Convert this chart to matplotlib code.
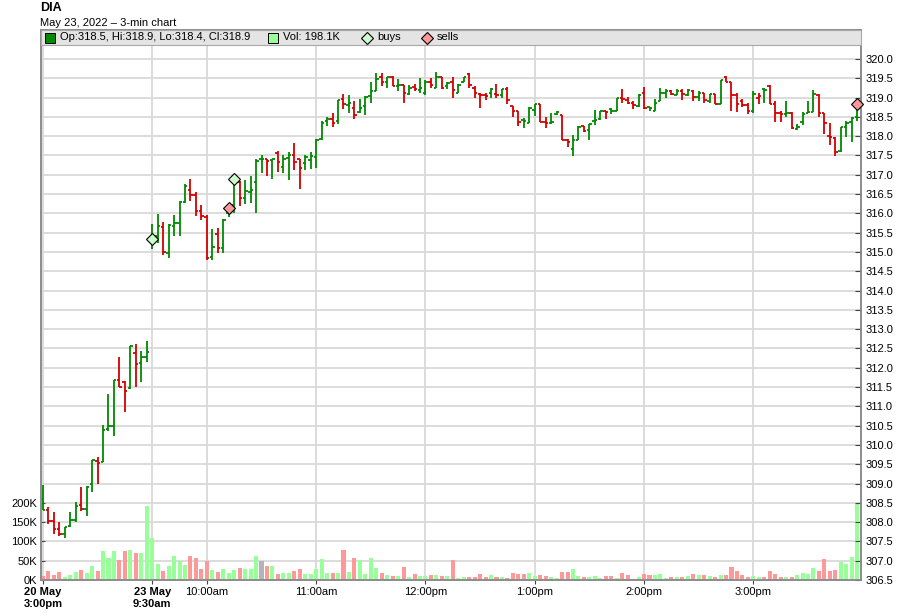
import numpy as np
import pandas as pd
import matplotlib
matplotlib.use("Agg")
import matplotlib.pyplot as plt
from matplotlib.patches import Rectangle
from matplotlib.lines import Line2D
from matplotlib.ticker import MultipleLocator, FuncFormatter

plt.rcParams['font.family'] = ['Liberation Sans', 'DejaVu Sans']

symbol = "DIA"
subtitle = "May 23, 2022 \u2013 3-min chart"

# close of the bar before the first one shown (20 May 2:57pm)
prev_close = 308.2

opens = [
    308.6, 308.32, 308.04, 307.82, 307.7, 307.89, 308.05, 308.45, 308.34, 308.98,
    309.58, 309.57, 310.42, 310.49, 311.68, 311.64, 311.47, 312.37, 312.11, 312.28,
    315.34, 315.41, 315.64, 314.97, 315.66, 315.76, 316.30, 316.6, 316.47, 316.06,
    315.91, 314.88, 315.46, 315.09, 316.0, 316.22, 316.82, 316.39, 316.55, 316.8,
    317.4, 317.4, 317.37, 317.57, 317.2, 317.43, 317.5, 317.4, 317.31, 317.37,
    317.46, 317.93, 318.38, 318.44, 318.4, 318.96, 318.8, 318.74, 318.62, 318.79,
    319.03, 319.17, 319.52, 319.41, 319.53, 319.3, 319.33, 319.09, 319.28, 319.2,
    319.13, 319.41, 319.26, 319.53, 319.3, 319.41, 319.11, 319.41, 319.6, 319.26,
    319.1, 319.06, 319.13, 319.09, 319.07, 319.22, 318.79, 318.66, 318.42, 318.33,
    318.68, 318.83, 318.36, 318.34, 318.57, 318.55, 317.89, 317.67, 317.89, 318.26,
    318.16, 318.4, 318.44, 318.64, 318.7, 318.66, 319.0, 318.93, 318.87, 318.78,
    319.11, 318.76, 318.66, 318.9, 319.13, 319.17, 319.07, 319.17, 319.07, 319.16,
    319.02, 319.12, 318.9, 319.09, 318.84, 319.53, 319.39, 319.07, 318.9, 318.81,
    318.66, 319.0, 319.22, 319.3, 318.83, 318.6, 318.57, 318.6, 318.19, 318.36,
    318.6, 318.62, 319.07, 318.6, 318.0, 317.96, 317.62, 318.23, 318.36, 318.5,
]
highs = [
    308.95, 308.4, 308.27, 308.0, 307.87, 308.26, 308.52, 308.9, 308.93, 309.6,
    309.69, 310.52, 311.33, 311.69, 312.28, 311.66, 312.57, 312.61, 312.43, 312.69,
    315.72, 315.97, 315.78, 315.72, 315.95, 316.32, 316.75, 316.89, 316.56, 316.22,
    315.96, 315.6, 315.61, 315.85, 316.26, 316.8, 316.84, 316.86, 316.97, 317.4,
    317.51, 317.42, 317.4, 317.61, 317.52, 317.59, 317.82, 317.4, 317.5, 317.59,
    317.93, 318.4, 318.49, 318.59, 318.93, 319.09, 319.07, 318.92, 318.96, 319.03,
    319.41, 319.63, 319.63, 319.53, 319.56, 319.47, 319.33, 319.33, 319.36, 319.5,
    319.46, 319.5, 319.65, 319.53, 319.39, 319.53, 319.35, 319.54, 319.63, 319.3,
    319.13, 319.13, 319.26, 319.35, 319.23, 319.28, 318.79, 318.66, 318.46, 318.76,
    318.83, 318.83, 318.49, 318.59, 318.66, 318.55, 317.93, 318.02, 318.25, 318.27,
    318.32, 318.68, 318.66, 318.66, 318.74, 319.0, 319.22, 319.02, 318.92, 319.09,
    319.28, 318.76, 318.96, 319.26, 319.22, 319.19, 319.21, 319.22, 319.23, 319.19,
    319.16, 319.13, 319.09, 319.09, 319.46, 319.56, 319.39, 319.12, 318.96, 318.85,
    319.18, 319.13, 319.24, 319.33, 318.92, 318.66, 318.91, 318.62, 318.32, 318.62,
    318.91, 319.19, 319.09, 318.6, 318.33, 317.97, 318.23, 318.4, 318.49, 318.9,
]
lows = [
    308.32, 307.96, 307.68, 307.65, 307.6, 307.87, 307.99, 308.3, 308.15, 308.79,
    309.0, 309.55, 310.37, 310.24, 311.49, 310.86, 311.45, 311.49, 311.62, 312.16,
    315.07, 315.22, 314.92, 314.84, 315.41, 315.41, 316.28, 316.32, 315.93, 315.83,
    314.79, 314.79, 314.97, 314.98, 315.9, 316.0, 316.19, 316.24, 316.28, 316.02,
    317.05, 316.97, 316.88, 317.08, 317.05, 316.87, 317.11, 316.62, 317.11, 317.16,
    317.18, 317.91, 318.25, 318.23, 318.32, 318.7, 318.6, 318.44, 318.59, 318.56,
    318.87, 319.16, 319.3, 319.26, 319.29, 319.17, 318.87, 319.06, 319.16, 319.11,
    319.07, 319.24, 319.24, 319.23, 319.23, 319.0, 319.11, 319.39, 319.26, 319.0,
    318.72, 318.93, 319.0, 319.0, 318.98, 318.83, 318.5, 318.26, 318.21, 318.33,
    318.53, 318.36, 318.2, 318.32, 318.55, 317.9, 317.73, 317.48, 317.89, 318.1,
    317.9, 318.29, 318.42, 318.44, 318.57, 318.64, 318.85, 318.83, 318.7, 318.76,
    318.7, 318.64, 318.66, 318.9, 319.0, 319.07, 319.06, 318.93, 319.05, 318.92,
    318.9, 318.87, 318.85, 318.83, 318.83, 319.39, 318.65, 318.62, 318.75, 318.58,
    318.59, 318.83, 318.85, 318.83, 318.36, 318.36, 318.49, 318.19, 318.15, 318.3,
    318.6, 318.62, 318.49, 318.06, 317.76, 317.48, 317.59, 317.97, 317.85, 318.4,
]
closes = [
    308.32, 308.04, 307.83, 307.69, 307.87, 308.05, 308.42, 308.35, 308.92, 309.6,
    309.53, 310.39, 310.5, 311.69, 311.49, 311.39, 312.56, 312.09, 312.28, 312.42,
    315.41, 315.66, 314.99, 315.70, 315.76, 316.30, 316.71, 316.47, 316.06, 315.93,
    314.85, 315.12, 315.09, 315.83, 316.22, 316.78, 316.39, 316.57, 316.6, 317.35,
    317.4, 317.36, 317.4, 317.34, 317.4, 317.5, 317.32, 317.18, 317.46, 317.48,
    317.91, 318.35, 318.44, 318.35, 318.93, 318.83, 318.85, 318.56, 318.74, 319.02,
    319.16, 319.47, 319.41, 319.53, 319.3, 319.33, 319.11, 319.26, 319.22, 319.24,
    319.41, 319.33, 319.53, 319.24, 319.37, 319.19, 319.33, 319.52, 319.32, 319.11,
    319.07, 319.03, 319.22, 319.06, 319.23, 318.93, 318.64, 318.36, 318.38, 318.74,
    318.83, 318.36, 318.34, 318.37, 318.62, 317.9, 317.84, 317.9, 318.23, 318.14,
    318.32, 318.43, 318.66, 318.62, 318.66, 319.0, 318.96, 318.87, 318.81, 319.07,
    318.72, 318.74, 318.87, 319.13, 319.16, 319.09, 319.17, 319.09, 319.19, 319.02,
    319.12, 318.94, 319.09, 318.84, 319.46, 319.39, 319.07, 318.83, 318.8, 318.66,
    319.09, 319.03, 319.2, 318.83, 318.59, 318.57, 318.6, 318.21, 318.23, 318.57,
    318.62, 319.09, 318.6, 318.33, 317.97, 317.59, 318.23, 318.33, 318.47, 318.9,
]
# volume in thousands of shares
volumes_k = [
    10.6, 24, 13, 20, 8, 13, 21, 26, 18.5, 37,
    24, 74, 58, 74, 53, 74, 77, 71, 69, 193,
    108, 42, 24, 37, 61, 48, 40, 61, 58, 29,
    48, 26, 21, 29, 18.5, 26, 32, 29, 29, 61,
    50, 37, 37, 16, 17.5, 17.5, 23.5, 28, 15.7, 15.7,
    28, 55, 17.4, 17.4, 17.4, 78, 21, 57, 52, 15.7,
    57, 31, 17.4, 13, 10.4, 10.4, 34, 7.8, 15.7, 10.4,
    10.4, 13, 13, 10.4, 10.4, 52, 5.2, 7.8, 7.8, 7.8,
    15.7, 7.8, 13, 7.8, 7.8, 5.2, 18.3, 15.7, 15.7, 18.3,
    10.4, 13, 10.4, 7.8, 5.2, 21, 21, 28.7, 11, 7.8,
    7.8, 10.4, 5.2, 10.4, 10.4, 5.2, 18.3, 13, 2.6, 7.8,
    15.7, 13, 13, 15.7, 5.2, 7.8, 7.8, 7.8, 10.4, 15.7,
    13, 13, 10.4, 7.8, 13, 13, 34, 23.5, 13, 7.8,
    10.4, 7.8, 7.8, 23.5, 15.7, 7.8, 7.8, 7.8, 13, 18.3,
    15.7, 31, 23.5, 55, 23.5, 26, 47, 42, 60, 198.1,
]

buys = [("2022-05-23 09:30", 315.34), ("2022-05-23 10:15", 316.89)]
sells = [("2022-05-23 10:12", 316.14), ("2022-05-23 15:57", 318.83)]

tick_times = ["2022-05-20 15:00", "2022-05-23 09:30", "2022-05-23 10:00",
              "2022-05-23 11:00", "2022-05-23 12:00", "2022-05-23 13:00",
              "2022-05-23 14:00", "2022-05-23 15:00"]
tick_labels = ["20 May\n3:00pm", "23 May\n9:30am", "10:00am", "11:00am",
               "12:00pm", "1:00pm", "2:00pm", "3:00pm"]

# bars are plotted by position, sessions glued together (no overnight gap)
times = pd.date_range("2022-05-20 15:00", periods=20, freq="3min").append(
    pd.date_range("2022-05-23 09:30", periods=130, freq="3min"))
pos = {t: i for i, t in enumerate(times)}

o = np.array(opens)
h = np.array(highs)
l = np.array(lows)
c = np.array(closes)
v = np.array(volumes_k)
x = np.arange(len(c))

GREEN = "#008a00"
RED = "#d40000"
VOL_UP = "#99ff99"
VOL_DN = "#ff9999"
VOL_FLAT = "#b4b4b4"
GRID = "#d9d9d9"
SPINE = "#8c8c8c"
MS = 6.6

# price bars: colour vs previous close; volume: close vs open
prev = np.r_[prev_close, c[:-1]]
price_cols = np.where(c > prev, GREEN, RED)
vol_cols = np.where(c > o, VOL_UP, np.where(c < o, VOL_DN, VOL_FLAT))

W, H = 900, 616
fig = plt.figure(figsize=(W / 100, H / 100), dpi=100)
ax_vol = fig.add_axes([41 / W, 1 - 580 / H, 820 / W, 550 / H])
ax = ax_vol.twinx()

# ---- volume (left scale, bottom layer) ----
ax_vol.bar(x, v, width=0.74, color=vol_cols, linewidth=0, zorder=2)
ax_vol.set_xlim(-0.35, 149.7)
ax_vol.set_ylim(0, 1425)
ax_vol.set_yticks([0, 50, 100, 150, 200])
ax_vol.yaxis.set_minor_locator(MultipleLocator(50))
ax_vol.yaxis.set_major_formatter(FuncFormatter(lambda val, p: f"{val:.0f}K"))
ax_vol.set_axisbelow(True)
ax_vol.grid(True, which="both", axis="y", color=GRID, lw=1.3)
ax_vol.grid(True, which="major", axis="x", color=GRID, lw=1.3)
ax_vol.tick_params(axis="y", which="major", direction="in", length=3,
                   color="#444444", labelsize=8, pad=3)
ax_vol.tick_params(axis="y", which="minor", length=0)

tick_pos = [pos[pd.Timestamp(t)] for t in tick_times]
ax_vol.set_xticks(tick_pos)
ax_vol.set_xticklabels(tick_labels)
ax_vol.tick_params(axis="x", direction="out", length=3, color="#444444",
                   labelsize=8, pad=2)
for lab in ax_vol.get_xticklabels():
    if "\n" in lab.get_text():
        lab.set_fontweight("bold")

# ---- price (right scale, top layer) ----
tick_w = 0.45
ax.vlines(x, l, h, colors=price_cols, lw=1.3)
ax.hlines(o, x - tick_w, x, colors=price_cols, lw=1.3)
ax.hlines(c, x, x + tick_w, colors=price_cols, lw=1.3)

bx = [pos[pd.Timestamp(t)] for t, _ in buys]
by = [p for _, p in buys]
sx = [pos[pd.Timestamp(t)] for t, _ in sells]
sy = [p for _, p in sells]
ax.plot(bx, by, "D", ms=MS, mfc="#ccffcc", mec="black", mew=0.8,
        zorder=5, clip_on=False)
ax.plot(sx, sy, "D", ms=MS, mfc="#ff9999", mec="black", mew=0.8,
        zorder=5, clip_on=False)

ax.set_ylim(306.5, 320.75)
ax.set_yticks(np.arange(306.5, 320.01, 0.5))
ax.yaxis.set_major_formatter(FuncFormatter(lambda val, p: f"{val:.1f}"))
ax.tick_params(axis="y", direction="in", length=4, color="#444444",
               labelsize=8, pad=3)

for a in (ax_vol, ax):
    for sp in a.spines.values():
        sp.set_color(SPINE)
        sp.set_linewidth(1.2)


# ---- legend band across the top of the plot ----
def px(xp, yp):
    return (xp - 41) / 820, (580 - yp) / 550


band_y0 = px(0, 44.5)[1]
ax.add_patch(Rectangle((0, band_y0), 1, 1 - band_y0, transform=ax.transAxes,
                       facecolor="#e4e4e4", edgecolor="#a8a8a8", lw=0.8,
                       zorder=10, clip_on=False))
sq_w, sq_h = 10 / 820, 10 / 550
ax.add_patch(Rectangle(px(45, 42.5), sq_w, sq_h, transform=ax.transAxes,
                       facecolor=GREEN, edgecolor="black", lw=0.7, zorder=11,
                       clip_on=False))
ax.add_patch(Rectangle(px(268, 42.5), sq_w, sq_h, transform=ax.transAxes,
                       facecolor=VOL_UP, edgecolor="black", lw=0.7, zorder=11,
                       clip_on=False))
ax.add_line(Line2D([px(367, 37.5)[0]], [px(367, 37.5)[1]], marker="D", ms=MS,
                   mfc="#ccffcc", mec="black", mew=0.8, transform=ax.transAxes,
                   zorder=11, clip_on=False))
ax.add_line(Line2D([px(427, 37.5)[0]], [px(427, 37.5)[1]], marker="D", ms=MS,
                   mfc="#ff9999", mec="black", mew=0.8, transform=ax.transAxes,
                   zorder=11, clip_on=False))

ohlc_text = f"Op:{o[-1]:.1f}, Hi:{h[-1]:.1f}, Lo:{l[-1]:.1f}, Cl:{c[-1]:.1f}"
vol_text = f"Vol: {v[-1]:.1f}K"
for xp, txt in [(60, ohlc_text), (283, vol_text), (377, "buys"), (437, "sells")]:
    ax.text(*px(xp, 37.5), txt, transform=ax.transAxes, fontsize=8,
            va="center", ha="left", zorder=12)

fig.text(40 / W, 1 - 8 / H, symbol, fontsize=9, fontweight="bold", va="center")
fig.text(40 / W, 1 - 23.5 / H, subtitle, fontsize=8, va="center")

fig.savefig("out.png", dpi=100)
